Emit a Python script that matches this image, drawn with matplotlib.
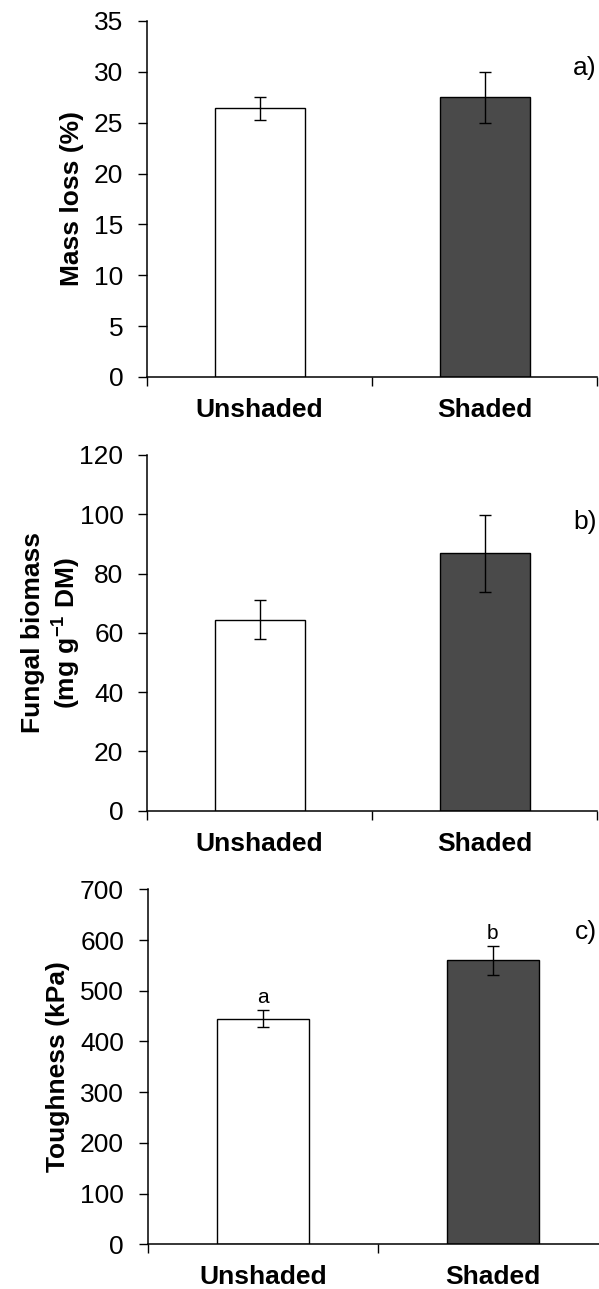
import matplotlib
matplotlib.use("Agg")
from matplotlib import pyplot as plt

plt.rcParams['font.family'] = ['Liberation Sans', 'DejaVu Sans']
plt.rcParams['mathtext.fontset'] = 'custom'
plt.rcParams['mathtext.rm'] = 'Liberation Sans'
plt.rcParams['mathtext.bf'] = 'Liberation Sans:bold'

treatments = ["Unshaded", "Shaded"]
bar_colors = ["white", "#4a4a4a"]

mass_loss = [26.4, 27.5]
mass_loss_se = [1.15, 2.5]

fungal_biomass = [64.4, 86.8]
fungal_biomass_se = [6.6, 13.0]

toughness = [445, 560]
toughness_se = [16.5, 28]
toughness_letters = ["a", "b"]

FS = 19

# figure-pixel geometry of each panel: (left, right, bottom, top)
W, H = 599, 1289
panels = [
    dict(box=(147, 597, 377, 21), vals=mass_loss, err=mass_loss_se, ymax=35, step=5,
         ylabel="Mass loss (%)", lab_x=-0.167, tag="a)", tag_y=30.4, letters=None),
    dict(box=(147, 597, 810.7, 455), vals=fungal_biomass, err=fungal_biomass_se, ymax=120, step=20,
         ylabel="Fungal biomass\n(mg g$^{\\mathbf{-1}}$ DM)", lab_x=-0.212, tag="b)", tag_y=97.5, letters=None),
    dict(box=(147.7, 607.7, 1244.3, 889.3), vals=toughness, err=toughness_se, ymax=700, step=100,
         ylabel="Toughness (kPa)", lab_x=-0.195, tag="c)", tag_y=615, letters=toughness_letters),
]

fig = plt.figure(figsize=(W / 100, H / 100), dpi=100)

for p in panels:
    l, r, b, t = p["box"]
    ax = fig.add_axes([l / W, 1 - b / H, (r - l) / W, (b - t) / H])
    x = range(len(treatments))
    ax.bar(x, p["vals"], width=0.4, color=bar_colors, edgecolor="black", linewidth=1.0, zorder=2)
    ax.errorbar(x, p["vals"], yerr=p["err"], fmt="none", ecolor="black",
                elinewidth=1.0, capsize=4.5, capthick=1.0, zorder=3)

    ax.set_xlim(-0.5, 1.5)
    ax.set_ylim(0, p["ymax"])
    ax.set_yticks(range(0, p["ymax"] + 1, p["step"]))

    ax.set_xticks([0, 1])
    ax.set_xticklabels(treatments, fontweight="bold", fontsize=FS)
    ax.set_xticks([-0.5, 0.5, 1.5], minor=True)
    ax.tick_params(axis="x", which="major", length=0, pad=15)
    ax.tick_params(axis="x", which="minor", length=6.5, width=1.0, direction="out")
    ax.tick_params(axis="y", length=6.5, width=1.0, direction="out", pad=10.5, labelsize=FS)

    for side in ("top", "right"):
        ax.spines[side].set_visible(False)
    for side in ("left", "bottom"):
        ax.spines[side].set_linewidth(1.1)

    ax.set_ylabel(p["ylabel"], fontweight="bold", fontsize=FS, va="center", linespacing=1.15)
    ax.yaxis.set_label_coords(p["lab_x"], 0.5)

    ax.text((597 - l) / (r - l), p["tag_y"], p["tag"], transform=ax.get_yaxis_transform(),
            ha="right", va="center", fontsize=FS)

    if p["letters"]:
        for xi, v, e, s in zip(x, p["vals"], p["err"], p["letters"]):
            ax.annotate(s, (xi, v + e), xytext=(0, 2), textcoords="offset points",
                        ha="center", va="bottom", fontsize=15)

fig.savefig("out.png", dpi=100)
